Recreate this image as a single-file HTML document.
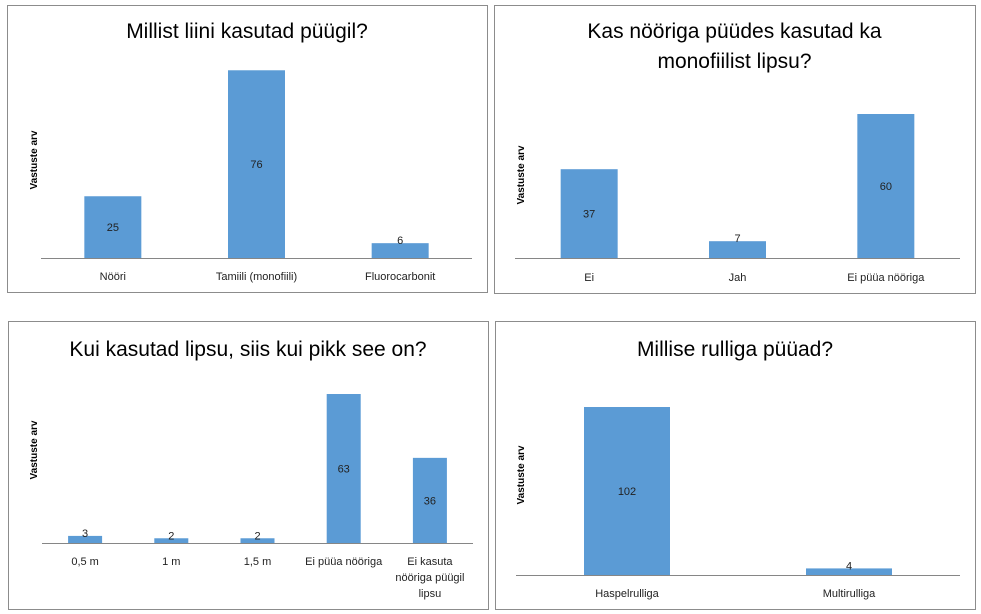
<!DOCTYPE html>
<html><head><meta charset="utf-8"><style>
body{margin:0;background:#fff;width:981px;height:614px;overflow:hidden;font-family:"Liberation Sans",sans-serif}
svg{position:absolute;left:0;top:0}
</style></head><body>
<svg id="chart" width="981" height="614"></svg>
<script>
const cats1=["Nööri","Tamiili (monofiili)","Fluorocarbonit"];
const vals1=[25,76,6];
const cats2=["Ei","Jah","Ei püüa nööriga"];
const vals2=[37,7,60];
const cats3=["0,5 m","1 m","1,5 m","Ei püüa nööriga","Ei kasuta|nööriga püügil|lipsu"];
const vals3=[3,2,2,63,36];
const cats4=["Haspelrulliga","Multirulliga"];
const vals4=[102,4];
const titles=[["Millist liini kasutad püügil?"],["Kas nööriga püüdes kasutad ka","monofiilist lipsu?"],["Kui kasutad lipsu, siis kui pikk see on?"],["Millise rulliga püüad?"]];
const NS="http://www.w3.org/2000/svg";
const svg=document.getElementById('chart');
function mk(tag,attrs,parent){const e=document.createElementNS(NS,tag);for(const k in attrs)e.setAttribute(k,attrs[k]);parent.appendChild(e);return e;}
const panels=[
 {box:[7,5,480,287],x0:41,x1:472,base:258,scale:2.47,bw:57,cats:cats1,vals:vals1,ty:[38],yt:[33,160],ly:280},
 {box:[494,5,481,288],x0:515,x1:960,base:258,scale:2.4,bw:57,cats:cats2,vals:vals2,ty:[38,68],yt:[520,175],ly:281},
 {box:[8,321,480,288],x0:42,x1:473,base:543,scale:2.365,bw:34,cats:cats3,vals:vals3,ty:[356],yt:[33,450],ly:565},
 {box:[495,321,480,288],x0:516,x1:960,base:575,scale:1.647,bw:86,cats:cats4,vals:vals4,ty:[356],yt:[520,475],ly:597}
];
panels.forEach((p,i)=>{
 const g=mk('g',{},svg);
 
 
 const r=mk('rect',{x:p.box[0]+0.5,y:p.box[1]+0.5,width:p.box[2],height:p.box[3],fill:'#fff',stroke:'#8c8c8c','stroke-width':1},g);
 
 
 const cx=p.box[0]+p.box[2]/2;
 titles[i].forEach((t,j)=>{
  const tt=mk('text',{x:cx,y:p.ty[j],'text-anchor':'middle','font-size':21,fill:'#000'},g);
  tt.textContent=t;
  
  
 });
 const yt=mk('text',{x:0,y:0,transform:`translate(${p.yt[0]+4},${p.yt[1]}) rotate(-90)`,'text-anchor':'middle','font-size':10,'font-weight':'bold',fill:'#000'},g);
 yt.textContent='Vastuste arv';
 
 
 const n=p.cats.length, step=(p.x1-p.x0)/n;
 p.vals.forEach((v,k)=>{
  const xc=p.x0+step*(k+0.5), h=v*p.scale;
  const b=mk('rect',{x:xc-p.bw/2,y:p.base-h,width:p.bw,height:h,fill:'#5b9bd5'},g);
  
  
  const lbl=mk('text',{x:xc,y:h<20?p.base-h+1:p.base-h/2+4,'text-anchor':'middle','font-size':11,fill:'#222'},g);
  lbl.textContent=v;
  
  
  p.cats[k].split('|').forEach((line,m)=>{
   const c=mk('text',{x:xc,y:p.ly+m*16,'text-anchor':'middle','font-size':11,fill:'#222'},g);
   c.textContent=line;
   
   
  });
 });
 const ax=mk('line',{x1:p.x0,x2:p.x1,y1:p.base+0.5,y2:p.base+0.5,stroke:'#868686','stroke-width':1},g);
 
 
});
</script>
</body></html>
